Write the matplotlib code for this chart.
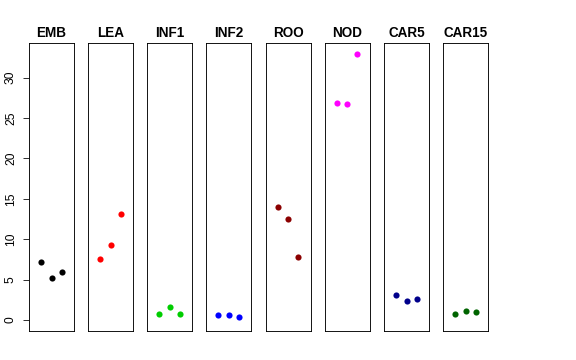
import matplotlib
matplotlib.use("Agg")
import matplotlib.pyplot as plt

plt.rcParams['font.family'] = ['Liberation Sans', 'DejaVu Sans']

categories = ["EMB", "LEA", "INF1", "INF2", "ROO", "NOD", "CAR5", "CAR15"]
emb = [7.2, 5.25, 6.0]
lea = [7.6, 9.25, 13.15]
inf1 = [0.7, 1.55, 0.75]
inf2 = [0.62, 0.66, 0.38]
roo = [14.05, 12.45, 7.85]
nod = [26.85, 26.8, 32.95]
car5 = [3.05, 2.3, 2.6]
car15 = [0.7, 1.1, 1.03]
series = [emb, lea, inf1, inf2, roo, nod, car5, car15]
colors = ["black", "#FF0000", "#00CD00", "#0000FF", "#8B0000", "#FF00FF", "#00008B", "#006400"]
yticks = [0, 5, 10, 15, 20, 25, 30]

W, H = 576, 360
fig = plt.figure(figsize=(W / 72, H / 72), dpi=72)
lefts = [29, 88, 147, 206, 265.5, 324.5, 384, 443]
pw = 45
top, bottom = 43, 331
ylim = (-1.36, 34.3)
for i, (cat, vals, col) in enumerate(zip(categories, series, colors)):
    ax = fig.add_axes([lefts[i] / W, 1 - bottom / H, pw / W, (bottom - top) / H])
    ax.scatter([1, 2, 3], vals, s=38, color=col, zorder=3, linewidths=0)
    ax.set_xlim(-0.16, 4.16)
    ax.set_ylim(*ylim)
    ax.set_xticks([])
    for sp in ax.spines.values():
        sp.set_linewidth(0.9)
        sp.set_color("black")
    ax.set_title(cat, fontsize=13.5, fontweight="bold", pad=6)
    if i == 0:
        ax.set_yticks(yticks)
        ax.set_yticklabels([str(t) for t in yticks], rotation=90, va="center", fontsize=12)
        ax.tick_params(axis="y", length=6, width=0.8, pad=6)
    else:
        ax.set_yticks([])

fig.savefig("out.png", dpi=72)
